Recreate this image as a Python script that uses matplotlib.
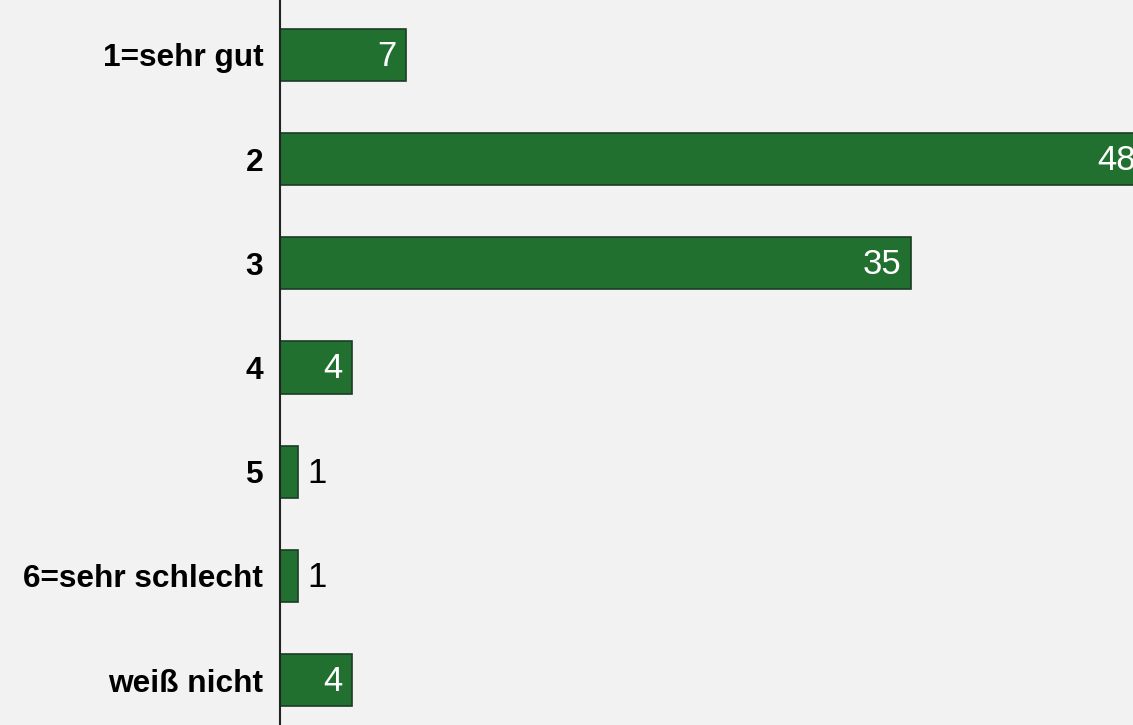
import matplotlib
matplotlib.use("Agg")
import matplotlib.pyplot as plt

categories = ["1=sehr gut", "2", "3", "4", "5", "6=sehr schlecht", "weiß nicht"]
values = [7, 48, 35, 4, 1, 1, 4]

BG = "#f2f2f2"
BAR = "#217030"
EDGE = "#1b3d26"

plt.rcParams['font.family'] = ['Liberation Sans', 'DejaVu Sans']

fig = plt.figure(figsize=(11.33, 7.25), dpi=100, facecolor=BG)
W, H = 1133, 725
left_px = 280
ax = fig.add_axes([left_px / W, 0, 1 - left_px / W, 1], facecolor=BG)

px_per_unit = 18.03
ax.set_xlim(0, (W - left_px) / px_per_unit)
spacing = 104.2
ax.set_ylim(6 + (H - 680) / spacing, -55 / spacing)

ypos = list(range(len(categories)))
ax.barh(ypos, values, height=0.5, color=BAR, edgecolor=EDGE, linewidth=1.2, clip_on=True)

for y, v in zip(ypos, values):
    if v >= 3:
        ax.annotate(str(v), xy=(v, y), xytext=(-10, 2), textcoords="offset pixels",
                    ha="right", va="center_baseline", color="white", fontsize=25,
                    annotation_clip=False)
    else:
        ax.annotate(str(v), xy=(v, y), xytext=(9, 2), textcoords="offset pixels",
                    ha="left", va="center_baseline", color="black", fontsize=25,
                    annotation_clip=False)

ax.set_yticks(ypos)
ax.set_yticklabels(categories, fontsize=22.8, fontweight="bold")
ax.tick_params(axis="y", length=0, pad=12)
ax.set_xticks([])
for s in ["top", "right", "bottom"]:
    ax.spines[s].set_visible(False)
ax.spines["left"].set_color("#222222")
ax.spines["left"].set_linewidth(1.5)

fig.savefig("out.png", dpi=100, facecolor=BG)
